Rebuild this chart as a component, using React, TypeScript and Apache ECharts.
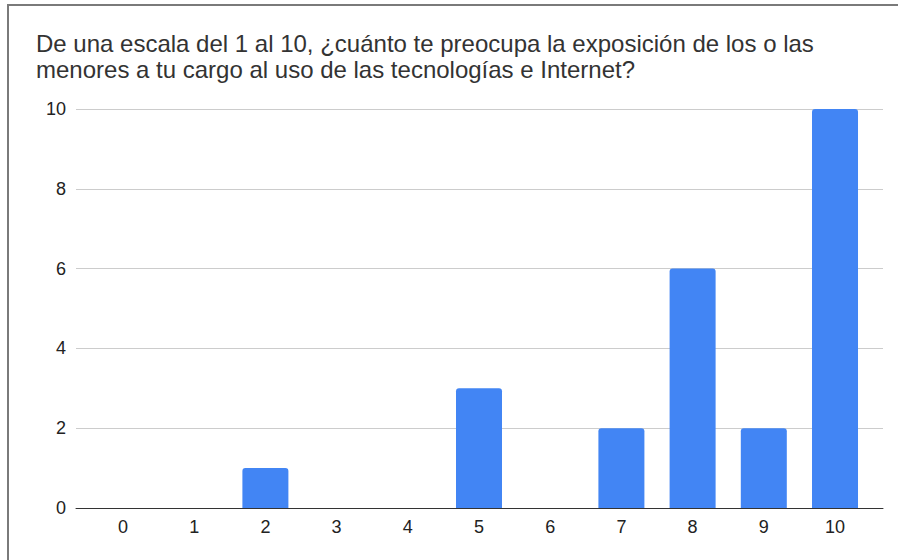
import React, { useEffect, useRef } from "react";
import * as echarts from "echarts";

const titleLines = [
  "De una escala del 1 al 10, ¿cuánto te preocupa la exposición de los o las",
  "menores a tu cargo al uso de las tecnologías e Internet?",
];
const categories = ["0", "1", "2", "3", "4", "5", "6", "7", "8", "9", "10"];
const counts = [0, 0, 1, 0, 0, 3, 0, 2, 6, 2, 10];
const yTicks = [0, 2, 4, 6, 8, 10];

export default function App() {
  const ref = useRef<HTMLDivElement>(null);

  useEffect(() => {
    if (!ref.current) return;
    const chart = echarts.init(ref.current, null, { renderer: "svg" });
    const positions = categories.map((_, i) => i);
    chart.setOption({
      animation: false,
      backgroundColor: "#ffffff",
      title: {
        text: titleLines.join("\n"),
        left: 36,
        top: 30,
        padding: 0,
        textStyle: {
          fontFamily: "Liberation Sans, Arial, sans-serif",
          fontSize: 24,
          lineHeight: 26,
          fontWeight: "normal",
          color: "#333333",
        },
      },
      graphic: [
        {
          type: "rect",
          shape: { x: 8, y: 5, width: 920, height: 600 },
          style: { fill: "none", stroke: "#7a7a7a", lineWidth: 2 },
          silent: true,
          z: 100,
        },
      ],
      grid: { left: 76, right: 15, top: 109, bottom: 52, containLabel: false },
      xAxis: {
        type: "value",
        min: -0.66,
        max: 10.674,
        splitLine: { show: false },
        axisLine: { show: true, onZero: false, lineStyle: { color: "#333333", width: 1 } },
        axisTick: { show: false },
        axisLabel: {
          customValues: positions,
          formatter: (v: number) => categories[Math.round(v)] ?? "",
          margin: 10,
          fontFamily: "Liberation Sans, Arial, sans-serif",
          fontSize: 18,
          color: "#222222",
        },
      },
      yAxis: {
        type: "value",
        min: 0,
        max: 10,
        interval: 2,
        axisLine: { show: false },
        axisTick: { show: false },
        splitLine: { lineStyle: { color: "#cccccc", width: 1 } },
        axisLabel: {
          customValues: yTicks,
          margin: 10,
          fontFamily: "Liberation Sans, Arial, sans-serif",
          fontSize: 18,
          color: "#222222",
        },
      },
      series: [
        {
          type: "bar",
          barWidth: 46,
          data: counts.map((c, i) => [positions[i], c]),
          itemStyle: { color: "#4285f4", borderRadius: [3, 3, 0, 0] },
          z: 3,
        },
      ],
    });
    return () => chart.dispose();
  }, []);

  return (
    <div
      ref={ref}
      style={{ position: "fixed", left: 0, top: 0, width: 898, height: 560 }}
    />
  );
}
